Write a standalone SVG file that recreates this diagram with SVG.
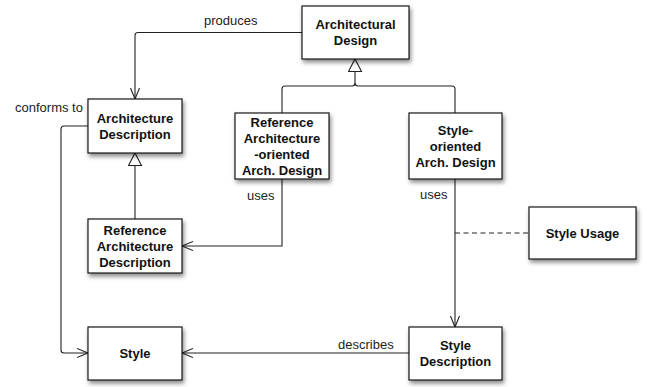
<svg xmlns="http://www.w3.org/2000/svg" width="649" height="387" viewBox="0 0 649 387">
<style>
.box{fill:#fff;stroke:#1a1a1a;stroke-width:1.2;filter:url(#sh)}
.t{font-family:"Liberation Sans",Arial,sans-serif;font-size:13px;font-weight:bold;fill:#111;text-anchor:middle}
.l{font-family:"Liberation Sans",Arial,sans-serif;font-size:13px;fill:#222}
.c{fill:none;stroke:#222;stroke-width:1.1}
</style>
<defs>
<filter id="sh" x="-20%" y="-20%" width="150%" height="160%">
<feDropShadow dx="1.5" dy="3" stdDeviation="2" flood-color="#000" flood-opacity="0.45"/>
</filter>
<marker id="open" markerUnits="userSpaceOnUse" markerWidth="14" markerHeight="12" refX="11" refY="5" orient="auto">
<path d="M0,0.5 L11,5 L0,9.5" fill="none" stroke="#222" stroke-width="1.1"/>
</marker>
<marker id="tri" markerUnits="userSpaceOnUse" markerWidth="16" markerHeight="16" refX="13" refY="7" orient="auto">
<path d="M0.5,0.5 L13,7 L0.5,13.5 Z" fill="#fff" stroke="#222" stroke-width="1.1"/>
</marker>
</defs>
<g id="connectors">
<path class="c" d="M302,32.5 H138 Q135,32.5 135,35.5 V99" marker-end="url(#open)"/>
<path class="c" d="M282,113 V89 Q282,86 285,86 H352 Q355,86 355,83 V59" marker-end="url(#tri)"/>
<path class="c" d="M455,113 V89 Q455,86 452,86 H358 Q355,86 355,83"/>
<path class="c" d="M135,219 V153" marker-end="url(#tri)"/>
<path class="c" d="M88,126 H64 Q61,126 61,129 V350 Q61,353 64,353 H88" marker-end="url(#open)"/>
<path class="c" d="M282,179 V246 H182" marker-end="url(#open)"/>
<path class="c" d="M455,179 V327" marker-end="url(#open)"/>
<path class="c" d="M455,233 H529" stroke-dasharray="5,3.5"/>
<path class="c" d="M409,353 H182" marker-end="url(#open)"/>
<text class="l" x="204" y="25">produces</text>
<text class="l" x="15" y="112">conforms to</text>
<text class="l" x="247" y="200">uses</text>
<text class="l" x="420" y="199">uses</text>
<text class="l" x="338" y="349">describes</text>
</g>
<g id="architectural-design">
<rect class="box" x="302" y="6" width="107" height="53"/>
<text class="t" x="355.5" y="29">Architectural</text>
<text class="t" x="355.5" y="45">Design</text>
</g>
<g id="architecture-description">
<rect class="box" x="88" y="99" width="94" height="54"/>
<text class="t" x="135" y="122.5">Architecture</text>
<text class="t" x="135" y="138.5">Description</text>
</g>
<g id="ref-arch-oriented">
<rect class="box" x="235" y="113" width="94" height="66"/>
<text class="t" x="282" y="127">Reference</text>
<text class="t" x="282" y="143">Architecture</text>
<text class="t" x="282" y="159">-oriented</text>
<text class="t" x="282" y="175">Arch. Design</text>
</g>
<g id="style-oriented">
<rect class="box" x="409" y="113" width="93" height="66"/>
<text class="t" x="455.5" y="134.5">Style-</text>
<text class="t" x="455.5" y="150.5">oriented</text>
<text class="t" x="455.5" y="166.5">Arch. Design</text>
</g>
<g id="ref-arch-description">
<rect class="box" x="88" y="219" width="94" height="54"/>
<text class="t" x="135" y="235">Reference</text>
<text class="t" x="135" y="251">Architecture</text>
<text class="t" x="135" y="267">Description</text>
</g>
<g id="style-usage">
<rect class="box" x="529" y="207" width="107" height="52"/>
<text class="t" x="582.5" y="237.5">Style Usage</text>
</g>
<g id="style">
<rect class="box" x="88" y="327" width="94" height="53"/>
<text class="t" x="135" y="357.5">Style</text>
</g>
<g id="style-description">
<rect class="box" x="409" y="327" width="93" height="53"/>
<text class="t" x="455.5" y="350">Style</text>
<text class="t" x="455.5" y="366">Description</text>
</g>
</svg>
